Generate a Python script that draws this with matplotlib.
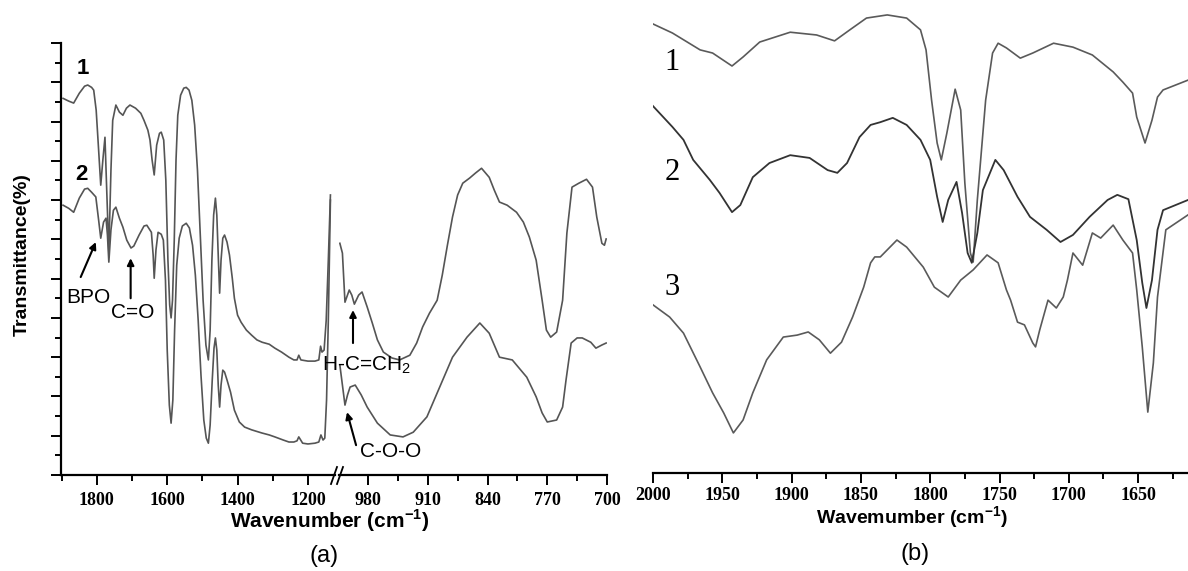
import numpy as np
import matplotlib
matplotlib.use('Agg')
import matplotlib.pyplot as plt
from matplotlib.lines import Line2D

plt.rcParams['font.family'] = ['Liberation Serif', 'DejaVu Serif']
plt.rcParams['mathtext.fontset'] = 'custom'
plt.rcParams['mathtext.rm'] = 'Liberation Sans'
plt.rcParams['mathtext.bf'] = 'Liberation Sans:bold'

# ---- panel (a), left part of the broken axis (1900 - 1120 cm-1) ----
wn_a1_l = [1896, 1880, 1866, 1850, 1835, 1826, 1815, 1809, 1802, 1795, 1789, 1783, 1777, 1772, 1766,
           1760, 1755, 1746, 1736, 1726, 1716, 1706, 1690, 1675, 1666, 1655, 1649, 1643, 1637, 1630,
           1622, 1617, 1610, 1604, 1598, 1593, 1589, 1585, 1580, 1575, 1570, 1562, 1553, 1546, 1538,
           1530, 1522, 1514, 1506, 1498, 1490, 1483, 1478, 1473, 1468, 1463, 1459, 1455, 1451, 1447,
           1442, 1437, 1430, 1423, 1415, 1409, 1400, 1390, 1375, 1360, 1345, 1330, 1310, 1294, 1275,
           1254, 1240, 1231, 1226, 1220, 1200, 1180, 1169, 1164, 1160, 1154, 1148, 1142, 1136]
t_a1_l = [95.9, 95.2, 94.7, 97.2, 99.0, 99.3, 98.7, 98.0, 92.9, 82.7, 73.8, 80.2, 86.0, 72.5, 56.8,
          77.6, 90.3, 94.2, 92.4, 91.6, 93.4, 94.2, 93.4, 92.1, 90.3, 87.8, 85.3, 80.2, 76.4, 84.0,
          87.0, 87.3, 85.3, 75.1, 54.7, 43.3, 40.0, 44.5, 59.8, 80.2, 91.6, 96.7, 98.5, 98.7, 98.0,
          95.4, 89.1, 77.6, 61.1, 44.5, 33.1, 29.3, 36.9, 54.7, 66.2, 70.5, 66.2, 56.0, 46.3, 54.7,
          60.3, 61.1, 59.3, 56.0, 50.1, 45.0, 40.7, 38.9, 36.9, 35.6, 34.4, 33.8, 33.3, 32.3, 31.3,
          30.0, 29.3, 29.3, 30.5, 29.3, 29.0, 29.0, 29.3, 32.8, 31.3, 31.8, 39.4, 54.7, 71.3]

wn_a2_l = [1896, 1880, 1866, 1850, 1835, 1826, 1815, 1803, 1795, 1789, 1781, 1774, 1770, 1766, 1760,
           1753, 1746, 1736, 1726, 1715, 1703, 1695, 1680, 1666, 1658, 1645, 1640, 1637, 1632, 1626,
           1617, 1611, 1605, 1600, 1594, 1589, 1584, 1579, 1573, 1566, 1557, 1546, 1537, 1528, 1520,
           1512, 1504, 1496, 1489, 1483, 1478, 1472, 1467, 1463, 1459, 1455, 1451, 1447, 1442, 1437,
           1430, 1420, 1409, 1395, 1380, 1360, 1331, 1310, 1294, 1270, 1254, 1240, 1231, 1226, 1215,
           1200, 1180, 1169, 1163, 1157, 1152, 1147, 1142, 1136]
t_a2_l = [68.7, 67.9, 66.9, 70.5, 72.8, 73.0, 72.0, 70.8, 64.9, 60.3, 64.4, 65.4, 61.1, 54.2, 62.4,
          67.4, 68.2, 65.4, 63.1, 59.8, 57.8, 58.3, 61.1, 63.4, 63.6, 61.8, 56.0, 50.1, 57.3, 61.8,
          61.3, 59.8, 49.6, 31.8, 17.8, 13.2, 19.1, 36.9, 53.4, 60.3, 63.4, 64.1, 62.9, 58.5, 50.9,
          39.4, 25.4, 14.0, 9.4, 8.1, 12.7, 24.2, 32.3, 34.9, 31.8, 22.9, 17.3, 22.9, 26.7, 26.2,
          24.2, 21.1, 16.5, 13.5, 12.2, 11.5, 10.7, 10.2, 9.7, 8.9, 8.4, 8.4, 8.7, 9.7, 8.1,
          7.9, 8.1, 8.4, 10.2, 8.9, 9.4, 19.1, 39.4, 70.0]

# ---- panel (a), right part of the broken axis (1014 - 700 cm-1) ----
wn_a1_r = [1013, 1010, 1007, 1002, 999, 996, 991, 987, 981, 975, 969, 962, 952, 943, 931, 923, 916,
           908, 899, 893, 887, 881, 875, 869, 861, 854, 847, 838, 832, 826, 817, 806, 798, 791, 783,
           776, 771, 766, 759, 752, 747, 741, 733, 724, 717, 712, 706, 703, 701]
t_a1_r = [59.0, 56.5, 44.0, 47.1, 45.8, 43.5, 45.8, 46.6, 42.8, 38.7, 34.4, 31.3, 29.8, 29.3, 30.5,
          33.6, 37.7, 41.2, 44.5, 50.9, 58.5, 65.7, 71.3, 74.3, 75.6, 76.9, 78.1, 75.8, 72.5, 69.5,
          68.7, 66.9, 64.4, 60.6, 54.7, 44.5, 36.9, 35.1, 36.4, 44.5, 61.6, 73.3, 74.3, 75.3, 73.3,
          65.7, 59.0, 58.5, 60.1]

wn_a2_r = [1013, 1010, 1007, 1004, 1001, 995, 988, 981, 969, 954, 939, 927, 911, 896, 881, 864, 849,
           838, 826, 811, 794, 783, 776, 770, 759, 752, 748, 742, 735, 729, 719, 713, 706, 701]
t_a2_r = [28.0, 22.9, 17.8, 20.4, 22.4, 22.9, 20.4, 17.3, 13.2, 10.2, 9.7, 10.9, 14.8, 22.4, 30.0,
          35.1, 38.7, 36.1, 30.0, 29.3, 24.9, 19.9, 15.8, 13.5, 14.0, 17.3, 24.2, 33.6, 34.9, 34.9,
          33.8, 32.3, 33.1, 33.6]

# ---- panel (b) ----
wn_b1 = [2000, 1986, 1966, 1957, 1943, 1935, 1923, 1901, 1882, 1869, 1858, 1846, 1831, 1817, 1807,
         1803, 1799, 1795, 1792, 1788, 1782, 1778, 1775, 1771, 1769, 1766, 1760, 1755, 1751, 1745,
         1735, 1726, 1711, 1697, 1683, 1668, 1661, 1654, 1651, 1645, 1640, 1636, 1632, 1614]
t_b1 = [114.8, 112.5, 108.2, 107.4, 104.1, 106.4, 110.2, 112.7, 112.0, 110.5, 113.3, 116.3, 117.1,
        116.3, 113.3, 108.2, 95.4, 84.5, 80.2, 87.0, 98.2, 92.9, 74.3, 56.5, 54.2, 70.0, 95.4, 107.4,
        109.9, 108.7, 106.1, 107.4, 109.9, 108.9, 106.9, 102.6, 100.0, 97.2, 91.1, 84.5, 90.3, 96.2,
        98.0, 100.5]

wn_b2 = [2000, 1986, 1978, 1971, 1959, 1952, 1943, 1937, 1928, 1916, 1901, 1887, 1874, 1867, 1860,
         1851, 1843, 1836, 1827, 1817, 1807, 1800, 1795, 1791, 1787, 1781, 1777, 1773, 1770, 1766,
         1762, 1753, 1747, 1737, 1728, 1716, 1706, 1697, 1685, 1672, 1665, 1657, 1651, 1647, 1644,
         1640, 1636, 1632, 1614]
t_b2 = [93.9, 88.6, 85.3, 80.2, 75.1, 71.8, 66.9, 68.7, 75.8, 79.4, 81.4, 80.7, 77.6, 76.9, 79.4,
        86.0, 89.1, 89.8, 90.9, 89.1, 85.3, 80.2, 70.8, 64.4, 70.0, 74.6, 66.7, 56.5, 54.0, 61.6,
        72.5, 80.2, 77.6, 70.8, 65.7, 62.4, 59.3, 61.1, 65.7, 70.0, 71.3, 70.2, 59.8, 48.9, 42.5,
        49.6, 62.4, 67.4, 70.0]

wn_b3 = [2000, 1988, 1978, 1966, 1957, 1949, 1942, 1935, 1928, 1918, 1906, 1896, 1888, 1880, 1872,
         1864, 1856, 1848, 1843, 1840, 1836, 1824, 1817, 1805, 1797, 1787, 1778, 1769, 1759, 1751,
         1745, 1742, 1737, 1732, 1726, 1724, 1721, 1715, 1709, 1704, 1701, 1697, 1690, 1683, 1677,
         1668, 1661, 1654, 1651, 1647, 1643, 1639, 1636, 1630, 1614]
t_b3 = [43.3, 40.2, 36.1, 27.5, 20.9, 15.8, 10.7, 14.0, 20.9, 29.3, 35.1, 35.6, 36.4, 34.4, 31.0,
        33.8, 40.2, 47.8, 54.0, 55.5, 55.5, 59.8, 58.0, 52.9, 47.8, 45.3, 49.6, 52.2, 56.0, 54.0,
        47.1, 44.5, 38.9, 38.2, 33.6, 32.6, 36.9, 44.5, 42.5, 45.3, 49.6, 56.5, 53.4, 61.6, 60.3,
        63.6, 59.8, 56.5, 47.1, 32.6, 16.0, 28.5, 45.3, 62.4, 66.2]

W, H = 1188, 571
fig = plt.figure(figsize=(W / 100, H / 100), dpi=100)


def fx(px):
    return px / W


def fy(py):
    return 1 - py / H


ax1 = fig.add_axes([fx(61), fy(475), fx(335) - fx(61), (475 - 43) / H])
ax2 = fig.add_axes([fx(339), fy(475), fx(607) - fx(339), (475 - 43) / H])
ax3 = fig.add_axes([fx(653), fy(473), 1 - fx(653), 473 / H])

gray = '#555555'
ax1.plot(wn_a1_l, t_a1_l, color=gray, lw=1.2)
ax1.plot(wn_a2_l, t_a2_l, color=gray, lw=1.2)
ax2.plot(wn_a1_r, t_a1_r, color=gray, lw=1.2)
ax2.plot(wn_a2_r, t_a2_r, color=gray, lw=1.2)
ax3.plot(wn_b1, t_b1, color='#5a5a5a', lw=1.2)
ax3.plot(wn_b2, t_b2, color='#333333', lw=1.3)
ax3.plot(wn_b3, t_b3, color='#5a5a5a', lw=1.2)

ax1.set_xlim(1902, 1123)
ax2.set_xlim(1014, 700)
ax3.set_xlim(2000, 1614)
for ax in (ax1, ax2):
    ax.set_ylim(0, 110)
ax3.set_ylim(0.5, 120.9)

for ax in (ax1, ax2, ax3):
    ax.patch.set_alpha(0)
    for s in ('top', 'right', 'left'):
        ax.spines[s].set_visible(False)
    ax.spines['bottom'].set_linewidth(1.6)
    ax.tick_params(axis='x', which='major', direction='out', length=7, width=1.4, pad=5)
    ax.tick_params(axis='x', which='minor', direction='out', length=4, width=1.4)
ax3.tick_params(axis='x', which='major', pad=3)

ax1.spines['left'].set_visible(True)
ax1.spines['left'].set_linewidth(1.6)
ax1.set_yticks(np.arange(0, 111, 10))
ax1.set_yticks(np.arange(5, 110, 10), minor=True)
ax1.tick_params(axis='y', which='major', direction='out', length=7, width=1.4, labelleft=False)
ax1.tick_params(axis='y', which='minor', direction='out', length=4, width=1.4)
ax2.set_yticks([])
ax3.set_yticks([])

ax1.set_xticks([1800, 1600, 1400, 1200])
ax1.set_xticks([1900, 1700, 1500, 1300], minor=True)
ax1.set_xticklabels(['1800', '1600', '1400', '1200'], fontsize=13, fontweight='bold')
ax2.set_xticks([980, 910, 840, 770, 700])
ax2.set_xticks([945, 875, 805, 735], minor=True)
ax2.set_xticklabels(['980', '910', '840', '770', '700'], fontsize=13, fontweight='bold')
ticks_b = [2000, 1950, 1900, 1850, 1800, 1750, 1700, 1650]
ax3.set_xticks(ticks_b)
ax3.set_xticks([1975, 1925, 1875, 1825, 1775, 1725, 1675, 1625], minor=True)
ax3.set_xticklabels([str(t) for t in ticks_b], fontsize=13, fontweight='bold')

# break marks on the axis
for x0 in (331, 337):
    fig.add_artist(Line2D([fx(x0), fx(x0 + 6)], [fy(484), fy(467)], color='black', lw=1.3))

sans = ['Liberation Sans', 'DejaVu Sans']
fig.text(fx(22), fy(255), 'Transmittance(%)', rotation=90, ha='center', va='center',
         family=sans, fontsize=14, fontweight='bold')
fig.text(fx(330), fy(521), 'Wavenumber (cm$^{\\mathbf{-1}}$)', ha='center', va='center',
         family=sans, fontsize=15, fontweight='bold')
fig.text(fx(324), fy(556), '(a)', ha='center', va='center', family=sans, fontsize=17)
fig.text(fx(912), fy(518), 'Wavemumber (cm$^{\\mathbf{-1}}$)', ha='center', va='center',
         family=sans, fontsize=14, fontweight='bold')
fig.text(fx(915), fy(554), '(b)', ha='center', va='center', family=sans, fontsize=17)

# curve numbers and band assignments
ax1.text(1839, 103.6, '1', ha='center', va='center', family=sans, fontsize=16, fontweight='bold')
ax1.text(1845, 76.4, '2', ha='center', va='center', family=sans, fontsize=16, fontweight='bold')
ax1.text(1825, 45.3, 'BPO', ha='center', va='center', family=sans, fontsize=15)
ax1.text(1697, 41.5, 'C=O', ha='center', va='center', family=sans, fontsize=15)
arrow = dict(arrowstyle='-|>', color='black', lw=1.5, mutation_scale=10, shrinkA=0, shrinkB=0)
ax1.annotate('', xy=(1803, 59.3), xytext=(1846, 50.4), arrowprops=arrow)
ax1.annotate('', xy=(1704, 55.2), xytext=(1704, 45.0), arrowprops=arrow)
ax2.text(982, 28.0, 'H-C=CH$_{\\mathrm{2}}$', ha='center', va='center', family=sans, fontsize=15,
         clip_on=False)
ax2.text(954, 5.9, 'C-O-O', ha='center', va='center', family=sans, fontsize=15, clip_on=False)
ax2.annotate('', xy=(997.6, 42.0), xytext=(997.6, 33.6), arrowprops=arrow)
ax2.annotate('', xy=(1004.6, 16.0), xytext=(994, 7.6), arrowprops=arrow)

for lab, yv in zip(['1', '2', '3'], [105.1, 76.9, 47.8]):
    ax3.text(1986, yv, lab, ha='center', va='center', fontsize=22)

fig.savefig('out.png', dpi=100)
